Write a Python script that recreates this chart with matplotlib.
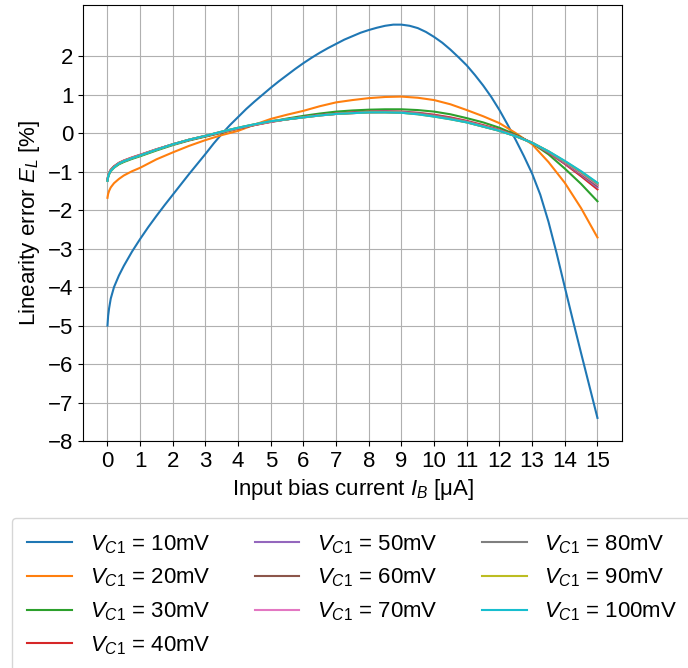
import matplotlib
matplotlib.use("Agg")
import matplotlib.pyplot as plt

plt.rcParams['font.family'] = ['Liberation Sans', 'DejaVu Sans']
plt.rcParams['mathtext.fontset'] = 'custom'
plt.rcParams['mathtext.rm'] = 'Liberation Sans'
plt.rcParams['mathtext.it'] = 'Liberation Sans:italic'
plt.rcParams['font.size'] = 16

# input bias current [uA], shared grid for 20..100 mV
i_b = [0, 0.02, 0.05, 0.1, 0.2, 0.35, 0.5, 0.75, 1, 1.5, 2, 2.5, 3, 3.5, 4, 4.5, 5, 5.5,
       6, 6.5, 7, 7.5, 8, 8.5, 9, 9.5, 10, 10.5, 11, 11.5, 12, 12.5, 13, 13.5, 14, 14.5, 15]

# finer grid for the 10 mV curve (steep parts)
i_b_10mv = [0, 0.02, 0.05, 0.1, 0.2, 0.35, 0.5, 0.75, 1, 1.25, 1.5, 1.75, 2, 2.25, 2.5, 2.75,
            3, 3.25, 3.5, 3.75, 4, 4.25, 4.5, 4.75, 5, 5.25, 5.5, 5.75, 6, 6.25, 6.5, 6.75,
            7, 7.25, 7.5, 7.75, 8, 8.25, 8.5, 8.75, 9, 9.25, 9.5, 9.75, 10, 10.25, 10.5, 10.75,
            11, 11.25, 11.5, 11.75, 12, 12.25, 12.5, 12.75, 13, 13.25, 13.5, 13.75, 14, 14.25,
            14.5, 14.75, 15]

# linearity error [%] per V_C1
el_10mv = [-5.0, -4.75, -4.55, -4.3, -4.0, -3.7, -3.45, -3.08, -2.75, -2.44, -2.15, -1.87, -1.6,
           -1.33, -1.06, -0.8, -0.54, -0.27, -0.02, 0.21, 0.42, 0.63, 0.82, 1.0, 1.18, 1.35,
           1.51, 1.67, 1.82, 1.96, 2.09, 2.21, 2.32, 2.43, 2.52, 2.61, 2.68, 2.74, 2.79, 2.82,
           2.82, 2.79, 2.73, 2.63, 2.5, 2.35, 2.17, 1.97, 1.76, 1.51, 1.24, 0.94, 0.6, 0.22,
           -0.18, -0.6, -1.05, -1.6, -2.3, -3.12, -4.0, -4.87, -5.72, -6.56, -7.4]
el_20mv = [-1.68, -1.58, -1.5, -1.41, -1.3, -1.19, -1.1, -0.99, -0.9, -0.68, -0.5, -0.33, -0.18,
           -0.05, 0.06, 0.22, 0.37, 0.48, 0.58, 0.7, 0.8, 0.86, 0.91, 0.94, 0.95, 0.92, 0.86,
           0.75, 0.6, 0.44, 0.26, 0.0, -0.29, -0.75, -1.29, -1.95, -2.71]
el_30mv = [-1.23, -1.14, -1.07, -0.99, -0.9, -0.81, -0.75, -0.67, -0.6, -0.45, -0.31, -0.19, -0.09,
           0.01, 0.12, 0.21, 0.3, 0.38, 0.45, 0.51, 0.56, 0.59, 0.61, 0.62, 0.62, 0.6, 0.56,
           0.49, 0.39, 0.28, 0.14, -0.04, -0.26, -0.55, -0.92, -1.32, -1.77]
el_40mv = [-1.21, -1.11, -1.03, -0.95, -0.86, -0.77, -0.71, -0.63, -0.56, -0.42, -0.29, -0.18, -0.08,
           0.02, 0.12, 0.21, 0.29, 0.36, 0.42, 0.47, 0.51, 0.54, 0.56, 0.57, 0.56, 0.53, 0.48,
           0.41, 0.32, 0.21, 0.09, -0.06, -0.25, -0.51, -0.8, -1.12, -1.46]
el_50mv = [-1.22, -1.12, -1.04, -0.96, -0.87, -0.78, -0.72, -0.64, -0.57, -0.42, -0.29, -0.17, -0.07,
           0.03, 0.13, 0.22, 0.3, 0.36, 0.42, 0.47, 0.5, 0.53, 0.55, 0.56, 0.55, 0.52, 0.46,
           0.39, 0.3, 0.19, 0.08, -0.07, -0.25, -0.5, -0.78, -1.08, -1.41]
el_60mv = [-1.22, -1.12, -1.04, -0.96, -0.87, -0.78, -0.72, -0.64, -0.57, -0.42, -0.29, -0.17, -0.07,
           0.03, 0.13, 0.22, 0.3, 0.36, 0.42, 0.47, 0.5, 0.53, 0.55, 0.55, 0.54, 0.51, 0.45,
           0.38, 0.29, 0.18, 0.07, -0.07, -0.25, -0.49, -0.76, -1.06, -1.37]
el_70mv = [-1.23, -1.13, -1.05, -0.97, -0.88, -0.78, -0.72, -0.64, -0.57, -0.42, -0.29, -0.17, -0.07,
           0.03, 0.13, 0.22, 0.3, 0.36, 0.41, 0.46, 0.5, 0.52, 0.54, 0.55, 0.54, 0.5, 0.44,
           0.37, 0.29, 0.18, 0.07, -0.08, -0.25, -0.48, -0.75, -1.04, -1.34]
el_80mv = [-1.23, -1.13, -1.05, -0.97, -0.88, -0.79, -0.73, -0.65, -0.58, -0.43, -0.29, -0.17, -0.07,
           0.04, 0.14, 0.23, 0.31, 0.36, 0.41, 0.46, 0.5, 0.52, 0.54, 0.54, 0.53, 0.5, 0.44,
           0.37, 0.28, 0.17, 0.06, -0.08, -0.25, -0.48, -0.74, -1.02, -1.32]
el_90mv = [-1.24, -1.14, -1.06, -0.98, -0.89, -0.79, -0.73, -0.65, -0.58, -0.43, -0.29, -0.17, -0.07,
           0.04, 0.14, 0.23, 0.31, 0.36, 0.41, 0.46, 0.5, 0.52, 0.54, 0.54, 0.53, 0.49, 0.43,
           0.36, 0.28, 0.17, 0.06, -0.08, -0.25, -0.47, -0.73, -1.0, -1.3]
el_100mv = [-1.24, -1.14, -1.06, -0.98, -0.89, -0.79, -0.73, -0.65, -0.58, -0.43, -0.29, -0.17, -0.07,
            0.04, 0.14, 0.23, 0.31, 0.36, 0.41, 0.46, 0.5, 0.52, 0.54, 0.54, 0.53, 0.49, 0.43,
            0.36, 0.28, 0.17, 0.06, -0.08, -0.25, -0.47, -0.72, -0.99, -1.29]

vc1_mv = [10, 20, 30, 40, 50, 60, 70, 80, 90, 100]
series = [el_10mv, el_20mv, el_30mv, el_40mv, el_50mv,
          el_60mv, el_70mv, el_80mv, el_90mv, el_100mv]

fig = plt.figure(figsize=(6.88, 6.68), dpi=100)
ax = fig.add_axes([0.1206, 0.3398, 0.7834, 0.6527])

for v, el in zip(vc1_mv, series):
    x = i_b_10mv if v == 10 else i_b
    ax.plot(x, el, label=f"$V_{{C1}}$ = {v}mV")

ax.set_xlim(-0.75, 15.75)
ax.set_ylim(-8, 3.33)
ax.set_xticks(range(0, 16))
ax.set_yticks(range(-8, 3))
ax.grid(True)
ax.set_xlabel("Input bias current $I_B$ [μA]")
ax.set_ylabel("Linearity error $E_L$ [%]")

ax.legend(loc='upper center', bbox_to_anchor=(0.5, -0.150), ncol=3, fontsize=16,
          borderpad=0.7)

fig.savefig("out.png", dpi=100)
